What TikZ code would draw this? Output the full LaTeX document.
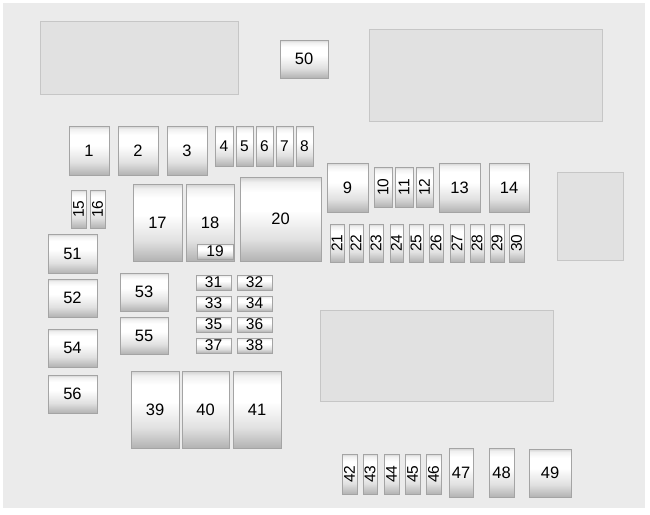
\documentclass[tikz,border=0pt]{standalone}
\usepackage{fontspec}
\setmainfont{Liberation Sans}
\definecolor{panel}{HTML}{EBEBEB}
\definecolor{blockfill}{HTML}{E1E1E1}
\definecolor{blockedge}{HTML}{C6C6C6}
\definecolor{fuseedge}{HTML}{A4A4A4}
\pgfdeclareverticalshading{fuseshade}{100bp}{color(0bp)=(black!30); color(25bp)=(black!30); color(38bp)=(black!12); color(55bp)=(white); color(66bp)=(white); color(72bp)=(black!6); color(75bp)=(black!18); color(100bp)=(black!18)}
\tikzset{
  fuse/.style={draw=fuseedge, line width=0.9pt, inner sep=0pt,
    shading=fuseshade,
    font=\fontsize{16.5}{17}\selectfont},
  smallfuse/.style={fuse, font=\fontsize{15.5}{16}\selectfont},
  block/.style={draw=blockedge, fill=blockfill, line width=0.8pt, inner sep=0pt}
}
\newcommand\fz[7][fuse]{%
  \pgfmathsetmacro\fzw{#5-#3}\pgfmathsetmacro\fzh{#6-#4}%
  \node[#1, minimum width=\fzw pt, minimum height=\fzh pt] (#2) at ({(#3+#5)/2},{(#4+#6)/2}) {#7};}
\newcommand\rz[6]{\fz[smallfuse]{#1}{#2}{#3}{#4}{#5}{\rotatebox{90}{#6}}}
\begin{document}
\begin{tikzpicture}[x=1pt,y=-1pt]
\useasboundingbox (0,0) rectangle (650,514);
\fill[white] (0,0) rectangle (650,514);
\fill[panel] (3,3) rectangle (645,508);
% large blocks
\node[block, minimum width=198pt, minimum height=73pt] (b1) at (139,57.5) {};
\node[block, minimum width=233pt, minimum height=92pt] (b2) at (485.5,75) {};
\node[block, minimum width=66pt, minimum height=88pt] (b3) at (590,216) {};
\node[block, minimum width=233pt, minimum height=91pt] (b4) at (436.5,355.5) {};
% top
\fz{f50}{280}{40}{328}{78}{50}
% row 1
\fz{f1}{69}{126}{109}{175}{1}
\fz{f2}{118}{126}{158}{175}{2}
\fz{f3}{167}{126}{207}{175}{3}
\fz[smallfuse]{f4}{215}{126}{233}{166}{4}
\fz[smallfuse]{f5}{236}{126}{253}{166}{5}
\fz[smallfuse]{f6}{256}{126}{273}{166}{6}
\fz[smallfuse]{f7}{276}{126}{293}{166}{7}
\fz[smallfuse]{f8}{296}{126}{313}{166}{8}
% right group
\fz{f9}{327}{163}{368}{212}{9}
\rz{f10}{374}{167}{392}{207}{10}
\rz{f11}{395}{167}{413}{207}{11}
\rz{f12}{416}{167}{433}{207}{12}
\fz{f13}{439}{163}{480}{212}{13}
\fz{f14}{489}{163}{529}{212}{14}
% 15 16
\rz{f15}{71}{190}{86}{228}{15}
\rz{f16}{90}{190}{105}{228}{16}
% 17 18 20
\fz{f17}{133}{184}{182}{261}{17}
\fz{f18}{186}{184}{234}{261}{18}
\fz[smallfuse]{f19}{197}{244}{233}{259}{19}
\fz{f20}{240}{177}{321}{261}{20}
% 21-30
\rz{f21}{330}{224}{344}{262}{21}
\rz{f22}{349}{224}{363}{262}{22}
\rz{f23}{369}{224}{383}{262}{23}
\rz{f24}{390}{224}{403}{262}{24}
\rz{f25}{409}{224}{423}{262}{25}
\rz{f26}{429}{224}{443}{262}{26}
\rz{f27}{450}{224}{464}{262}{27}
\rz{f28}{470}{224}{484}{262}{28}
\rz{f29}{490}{224}{504}{262}{29}
\rz{f30}{509}{224}{524}{262}{30}
% left column
\fz{f51}{48}{234}{97}{273}{51}
\fz{f52}{48}{279}{97}{317}{52}
\fz{f54}{48}{329}{97}{367}{54}
\fz{f56}{48}{375}{97}{413}{56}
\fz{f53}{120}{273}{168}{311}{53}
\fz{f55}{120}{317}{168}{354}{55}
% 31-38
\fz[smallfuse]{f31}{196}{275}{231}{290}{31}
\fz[smallfuse]{f32}{237}{275}{272}{290}{32}
\fz[smallfuse]{f33}{196}{296}{231}{311}{33}
\fz[smallfuse]{f34}{237}{296}{272}{311}{34}
\fz[smallfuse]{f35}{196}{317}{231}{332}{35}
\fz[smallfuse]{f36}{237}{317}{272}{332}{36}
\fz[smallfuse]{f37}{196}{338}{231}{353}{37}
\fz[smallfuse]{f38}{237}{338}{272}{353}{38}
% 39-41
\fz{f39}{131}{371}{179}{448}{39}
\fz{f40}{182}{371}{229}{448}{40}
\fz{f41}{233}{371}{281}{448}{41}
% bottom
\rz{f42}{342}{454}{357}{494}{42}
\rz{f43}{363}{454}{377}{494}{43}
\rz{f44}{384}{454}{399}{494}{44}
\rz{f45}{405}{454}{420}{494}{45}
\rz{f46}{426}{454}{441}{494}{46}
\fz{f47}{449}{448}{473}{497}{47}
\fz{f48}{489}{448}{514}{497}{48}
\fz{f49}{529}{449}{571}{497}{49}
\end{tikzpicture}
\end{document}
